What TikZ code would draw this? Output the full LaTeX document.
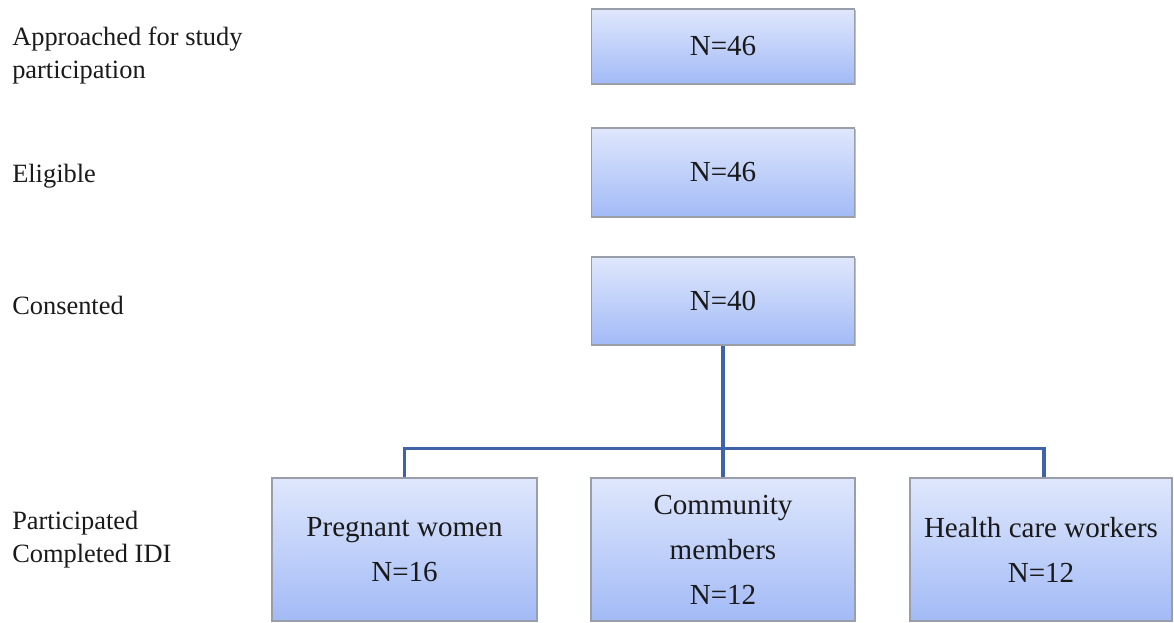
\documentclass[tikz,border=0pt]{standalone}
\usepackage{fontspec}
\setmainfont{Liberation Serif}
\usetikzlibrary{shadows}
\definecolor{boxtop}{HTML}{DFE7FC}
\definecolor{boxbot}{HTML}{A2BAF6}
\definecolor{boxedge}{HTML}{9A9EA8}
\definecolor{conncol}{HTML}{3F62A8}
\definecolor{txt}{HTML}{1A1A1A}
\begin{document}
\begin{tikzpicture}[x=0.75pt,y=-0.75pt,
  stagebox/.style={draw=boxedge, line width=0.8pt, top color=boxtop, bottom color=boxbot,
    minimum width=263*0.75pt, inner sep=0pt, align=center, text=txt,
    font=\fontsize{21.8pt}{33.75pt}\selectfont,
    drop shadow={shadow xshift=1pt, shadow yshift=-1pt, opacity=0.25, fill=black}},
  rowlabel/.style={anchor=west, align=left, text=txt, inner sep=0pt,
    font=\fontsize{19.8pt}{24.75pt}\selectfont},
  conn/.style={draw=conncol, line width=2.3pt}]
\useasboundingbox (0,0) rectangle (1174,622);
\fill[white] (0,0) rectangle (1174,622);
% row labels
\node[rowlabel] (l1) at (12,56) {Approached for study\\participation};
\node[rowlabel] (l2) at (12,176) {Eligible};
\node[rowlabel] (l3) at (12,305) {Consented};
\node[rowlabel] (l4) at (12,540) {Participated\\Completed IDI};
% main boxes
\node[stagebox, minimum height=75*0.75pt] (a) at (723,46.5) {N=46};
\node[stagebox, minimum height=89*0.75pt] (e) at (723,172.5) {N=46};
\node[stagebox, minimum height=88*0.75pt] (c) at (723,301) {N=40};
% bottom boxes
\node[stagebox, minimum width=265*0.75pt, minimum height=143*0.75pt] (pw) at (404.5,549.5) {Pregnant women\\N=16};
\node[stagebox, minimum width=264*0.75pt, minimum height=143*0.75pt] (cm) at (723,549.5) {Community\\members\\N=12};
\node[stagebox, minimum width=262*0.75pt, minimum height=143*0.75pt] (hc) at (1041,549.5) {Health care workers\\N=12};
% connectors
\draw[conn] (c.south) -- (cm.north);
\draw[conn] (pw.north) -- ++(0,-29) coordinate (barl) -| ([xshift=3*0.75pt]hc.north);
\end{tikzpicture}
\end{document}
